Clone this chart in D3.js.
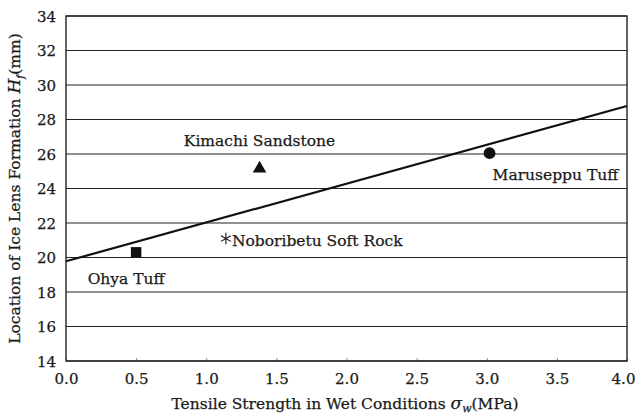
<!DOCTYPE html>
<html>
<head>
<meta charset="utf-8">
<script src="https://cdn.jsdelivr.net/npm/d3@7"></script>
<style>
  body { margin: 0; background: #fff; }
  text { font-family: "DejaVu Serif", "Liberation Serif", serif; fill: #1a1a1a; stroke: #1a1a1a; stroke-width: 0.25px; }
</style>
</head>
<body>
<svg id="chart"></svg>
<script>
// rock samples
const names = ['Ohya Tuff', 'Kimachi Sandstone', 'Noboribetu Soft Rock', 'Maruseppu Tuff']
const strength = [0.5, 1.38, 1.14, 3.02]
const lensDepth = [20.3, 25.15, 21.1, 26.05]
const symbols = ['square', 'triangle', 'cross', 'circle']
// fitted line end points
const fitX = [0, 4]
const fitY = [19.78, 28.78]
const xTicks = [0, 0.5, 1, 1.5, 2, 2.5, 3, 3.5, 4]
const yTicks = [14, 16, 18, 20, 22, 24, 26, 28, 30, 32, 34]

const W = 636, H = 418
const m = {top: 16, right: 9, bottom: 57, left: 66}

const svg = d3.select('#chart').attr('width', W).attr('height', H)
const g = svg.append('g').attr('transform', `translate(${m.left},${m.top})`)
const iw = W - m.left - m.right, ih = H - m.top - m.bottom

const x = d3.scaleLinear().domain([0, 4]).range([0, iw])
const y = d3.scaleLinear().domain([14, 34]).range([ih, 0])

// horizontal grid
g.append('g')
    .selectAll('line')
    .data(yTicks)
    .join('line')
    .attr('x1', 0).attr('x2', iw)
    .attr('y1', d => y(d)).attr('y2', d => y(d))
    .attr('stroke', '#222').attr('stroke-width', 1.2)

// axes
const xAxis = g.append('g')
    .attr('transform', `translate(0,${ih})`)
    .call(d3.axisBottom(x).tickValues(xTicks).tickFormat(d3.format('.1f')).tickSize(-3).tickPadding(12))
const yAxis = g.append('g')
    .call(d3.axisLeft(y).tickValues(yTicks).tickSize(0).tickPadding(10))
;[xAxis, yAxis].forEach(a => {
    a.select('.domain').remove()
    a.selectAll('line').attr('stroke', '#888')
    a.selectAll('text').style('font-size', '15px').style('font-family', '"DejaVu Serif", serif').attr('fill', '#1a1a1a')
})
yAxis.selectAll('text').attr('dy', '0.34em')
// keep the last x label inside the page
xAxis.selectAll('.tick:last-of-type text').attr('dx', -4)

// frame
g.append('rect').attr('width', iw).attr('height', ih)
    .attr('fill', 'none').attr('stroke', '#222').attr('stroke-width', 1.4)

// regression line
g.append('line')
    .attr('x1', x(fitX[0])).attr('y1', y(fitY[0]))
    .attr('x2', x(fitX[1])).attr('y2', y(fitY[1]))
    .attr('stroke', '#111').attr('stroke-width', 2.2)

// markers
const shapes = {
    square: d3.symbol(d3.symbolSquare, 110),
    triangle: d3.symbol(d3.symbolTriangle, 80),
    circle: d3.symbol(d3.symbolCircle, 110),
    cross: d3.symbol(d3.symbolAsterisk, 90)
}
g.append('g')
    .selectAll('path')
    .data(names)
    .join('path')
    .attr('transform', (d, i) => `translate(${x(strength[i])},${y(lensDepth[i])})`)
    .attr('d', (d, i) => shapes[symbols[i]]())
    .attr('fill', (d, i) => symbols[i] === 'cross' ? 'none' : '#111')
    .attr('stroke', '#111')
    .attr('stroke-width', (d, i) => symbols[i] === 'cross' ? 1.1 : 0)

// point labels
const labelPos = [
    {dx: -10, dy: 32, anchor: 'middle'},
    {dx: 0, dy: -23, anchor: 'middle'},
    {dx: 6, dy: 7, anchor: 'start'},
    {dx: 3, dy: 27, anchor: 'start'}
]
g.append('g')
    .selectAll('text')
    .data(names)
    .join('text')
    .attr('x', (d, i) => x(strength[i]) + labelPos[i].dx)
    .attr('y', (d, i) => y(lensDepth[i]) + labelPos[i].dy)
    .attr('text-anchor', (d, i) => labelPos[i].anchor)
    .style('font-size', '15.5px')
    .text(d => d)

// axis titles
svg.append('text')
    .attr('x', 345).attr('y', H - 9)
    .attr('text-anchor', 'middle')
    .style('font-size', '15.5px')
    .html('Tensile Strength in Wet Conditions <tspan font-style="italic" font-size="17">σ</tspan><tspan font-style="italic" font-size="11" dy="3">w</tspan><tspan dy="-3">(MPa)</tspan>')

svg.append('text')
    .attr('transform', `translate(20,${m.top + ih / 2}) rotate(-90)`)
    .attr('text-anchor', 'middle')
    .style('font-size', '15.5px')
    .html('Location of Ice Lens Formation <tspan font-style="italic" font-size="17">H</tspan><tspan font-style="italic" font-size="11" dy="4">f</tspan><tspan dy="-4">(mm)</tspan>')
</script>
</body>
</html>
